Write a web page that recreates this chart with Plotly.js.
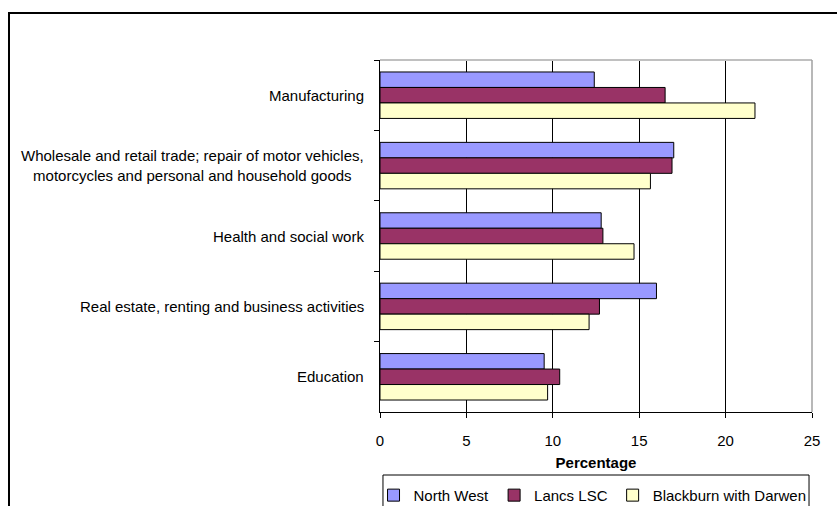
<!DOCTYPE html>
<html>
<head>
<meta charset="utf-8">
<script src="https://cdn.plot.ly/plotly-3.0.1.min.js"></script>
<style>
html,body{margin:0;padding:0;background:#fff;}
#chart{width:837px;height:506px;}
</style>
</head>
<body>
<div id="chart"></div>
<script>
const categories = [
  "Manufacturing",
  "Wholesale and retail trade; repair of motor vehicles,<br>motorcycles and personal and household goods",
  "Health and social work",
  "Real estate, renting and business activities",
  "Education"
];
const seriesNames = ["North West", "Lancs LSC", "Blackburn with Darwen"];
const northWest = [12.4, 17.0, 12.8, 16.0, 9.5];
const lancsLSC = [16.5, 16.9, 12.9, 12.7, 10.4];
const blackburn = [21.7, 15.65, 14.7, 12.1, 9.7];
const xTicks = [0, 5, 10, 15, 20, 25];
const colors = ["#9999FF", "#993366", "#FFFFCC"];

const FONT = "Liberation Sans, Arial, sans-serif";
const seriesValues = [northWest, lancsLSC, blackburn];

const traces = seriesValues.map((vals, i) => ({
  type: "bar",
  orientation: "h",
  name: seriesNames[i],
  x: vals,
  y: categories,
  marker: {color: colors[i], line: {color: "#000", width: 1}},
  hoverinfo: "x+name"
}));

const annotations = categories.map(c => ({
  xref: "paper", yref: "y",
  x: 0, y: c,
  xanchor: "right", yanchor: "middle",
  xshift: -14,
  align: "center",
  showarrow: false,
  text: c,
  font: {family: FONT, size: 15, color: "#000"}
}));

const layout = {
  width: 837, height: 506,
  margin: {l: 380, r: 25, t: 60, b: 94, autoexpand: false},
  paper_bgcolor: "#fff",
  plot_bgcolor: "#fff",
  barmode: "group",
  bargap: 0.34,
  bargroupgap: 0,
  font: {family: FONT, size: 15, color: "#000"},
  showlegend: true,
  legend: {
    orientation: "h",
    x: -0.015, y: -0.19,
    xanchor: "left", yanchor: "top",
    bgcolor: "rgba(0,0,0,0)",
    borderwidth: 0,
    font: {family: FONT, size: 15, color: "#000"},
    itemwidth: 30,
    traceorder: "normal"
  },
  xaxis: {
    range: [0, 25],
    tickvals: xTicks,
    ticktext: xTicks.map(String),
    ticks: "outside", ticklen: 5, tickcolor: "#000", tickwidth: 1,
    showline: true, linecolor: "#000", linewidth: 1,
    showgrid: true, gridcolor: "#000", gridwidth: 1,
    zeroline: false,
    ticklabelstandoff: 10,
    tickfont: {family: FONT, size: 15, color: "#000"},
    title: {text: "<b>Percentage</b>", standoff: 9, font: {family: FONT, size: 15, color: "#000"}},
    fixedrange: true
  },
  yaxis: {
    type: "category",
    autorange: "reversed",
    tickson: "boundaries",
    ticks: "outside", ticklen: 5, tickcolor: "#000", tickwidth: 1,
    showline: true, linecolor: "#000", linewidth: 1,
    showgrid: false,
    showticklabels: false,
    zeroline: false,
    fixedrange: true
  },
  annotations: annotations,
  shapes: [
    {type: "line", xref: "paper", yref: "paper", x0: 0, x1: 1, y0: 1, y1: 1, line: {color: "#c0c0c0", width: 2}, layer: "above"},
    {type: "line", xref: "paper", yref: "paper", x0: 1, x1: 1, y0: 0, y1: 1, line: {color: "#a0a0a0", width: 1.5}, layer: "above"},
    {type: "rect", xref: "paper", yref: "paper", x0: -0.8588, x1: 1.2, y0: -0.35, y1: 1.1335, line: {color: "#000", width: 2}, layer: "below"},
    {type: "rect", xref: "paper", yref: "paper", x0: 0.0069, x1: 0.9931, y0: -0.179, y1: -0.35, line: {color: "#000", width: 1}, layer: "below"}
  ]
};

Plotly.newPlot("chart", traces, layout, {displayModeBar: false, staticPlot: true});
</script>
</body>
</html>
